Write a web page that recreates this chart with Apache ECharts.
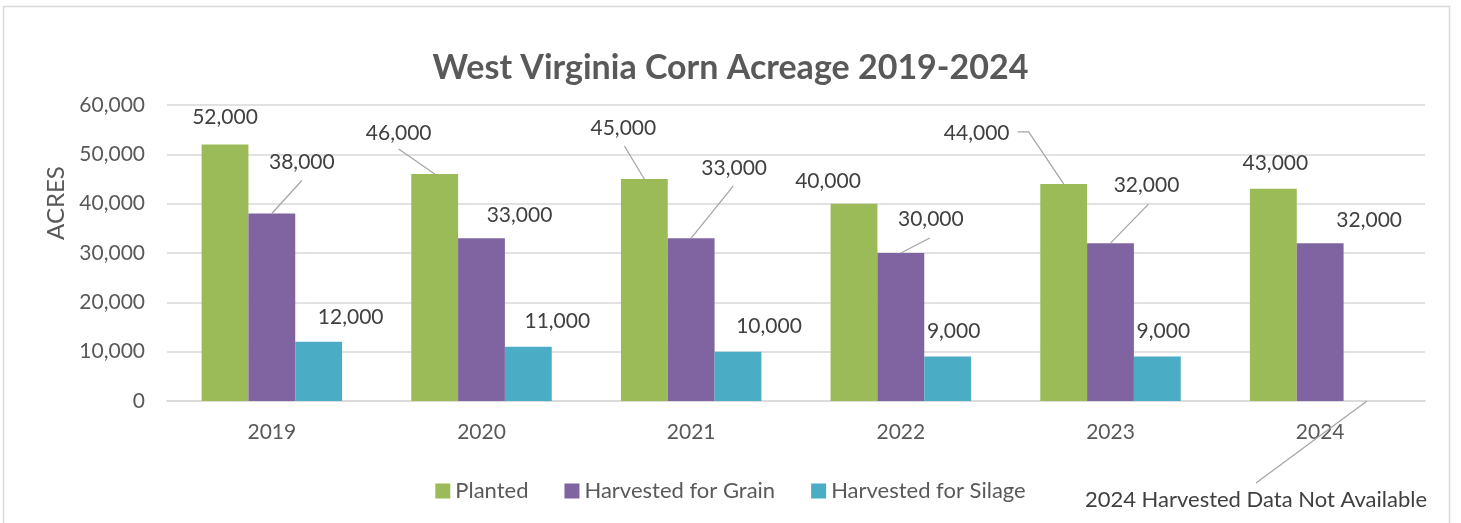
<!DOCTYPE html>
<html><head><meta charset="utf-8">
<script src="https://cdn.jsdelivr.net/npm/echarts@6/dist/echarts.min.js"></script>
<style>html,body{margin:0;padding:0;background:#fff}#c{width:1461px;height:523px}</style>
</head><body><div id="c"></div>
<script>
// ---- data ----
const categories = ['2019', '2020', '2021', '2022', '2023', '2024'];
const seriesNames = ['Planted', 'Harvested for Grain', 'Harvested for Silage'];
const planted = [52000, 46000, 45000, 40000, 44000, 43000];
const grain = [38000, 33000, 33000, 30000, 32000, 32000];
const silage = [12000, 11000, 10000, 9000, 9000, null];
const missingNote = '2024 Harvested Data Not Available';
const titleText = 'West Virginia Corn Acreage 2019-2024';
const yAxisName = 'ACRES';

// ---- label layout (pixel offsets of label centre from bar top centre) ----
const plantedOffsets = [[0, -27], [-36, -41], [-21, -51], [-26, -22], [-87, -51], [2, -26]];
const grainOffsets = [[30, -51], [38, -23], [43, -70], [30, -34], [36, -58], [49, -23]];
const silageOffsets = [[32, -25], [29, -25], [31, -25], [6, -25], [6, -25], [-111, 99]];
// leader line bend points (pixel offsets from bar top centre); null = no leader
const plantedLeaders = [null, [[-36, -25]], [[-20, -33]], null, [[-35, -52], [-46, -52]], null];
const grainLeaders = [[[30, -33]], null, [[42, -52]], [[29, -15]], [[38, -39]], null];
const silageLeaders = [null, null, null, null, null, [[-111, 82]]];

const colors = ['#9BBB59', '#8064A2', '#4BACC6'];
const FONT = 'Lato, "Open Sans", sans-serif';
const CAT_GAP = 0.33;

function fmt(v) { return Number(v).toLocaleString('en-US'); }

function buildData(values) {
  return values.map(v => {
    const d = { value: v == null ? 0 : v };
    if (v == null) d.label = { formatter: missingNote, fontSize: 22 };
    return d;
  });
}

function makeLayout(offsets) {
  return function (p) {
    const o = offsets[p.dataIndex];
    return {
      x: p.rect.x + p.rect.width / 2 + o[0],
      y: p.rect.y + o[1],
      align: 'center',
      verticalAlign: 'middle'
    };
  };
}

function makeSeries(name, values, offsets, color) {
  return {
    name: name,
    type: 'bar',
    barGap: '0%',
    barCategoryGap: (CAT_GAP * 100) + '%',
    itemStyle: { color: color },
    data: buildData(values),
    label: {
      show: true,
      position: 'top',
      color: '#404040',
      fontFamily: FONT,
      fontSize: 21,
      formatter: p => fmt(p.value)
    },
    labelLayout: makeLayout(offsets)
  };
}

const allValues = [planted, grain, silage];
const allLeaders = [plantedLeaders, grainLeaders, silageLeaders];
const leaderData = [];
allLeaders.forEach((arr, s) => arr.forEach((pts, i) => {
  if (pts) leaderData.push([i, allValues[s][i] == null ? 0 : allValues[s][i], s]);
}));

const chart = echarts.init(document.getElementById('c'));
chart.setOption({
  animation: false,
  color: colors,
  title: {
    text: titleText,
    left: 'center',
    top: 46,
    textStyle: { fontFamily: FONT, fontSize: 34, fontWeight: 'bold', color: '#595959' }
  },
  graphic: [{
    type: 'rect',
    shape: { x: 3.5, y: 6.5, width: 1446, height: 540 },
    style: { fill: 'none', stroke: '#d9d9d9', lineWidth: 1.5 },
    silent: true
  }],
  legend: {
    data: seriesNames,
    left: 'center',
    top: 475,
    icon: 'rect',
    itemWidth: 15,
    itemHeight: 15,
    itemGap: 36,
    textStyle: { fontFamily: FONT, fontSize: 22, color: '#595959' }
  },
  grid: { left: 167, right: 36, top: 105, bottom: 122, containLabel: false },
  xAxis: {
    type: 'category',
    data: categories,
    axisLine: { lineStyle: { color: '#d9d9d9', width: 1.5 } },
    axisTick: { show: false },
    axisLabel: { color: '#595959', fontFamily: FONT, fontSize: 21, margin: 21 }
  },
  yAxis: {
    type: 'value',
    min: 0,
    max: 60000,
    interval: 10000,
    name: yAxisName,
    nameLocation: 'middle',
    nameGap: 93,
    nameTextStyle: { color: '#595959', fontFamily: FONT, fontSize: 24, padding: [0, 0, 0, 100] },
    axisLine: { show: false },
    axisTick: { show: false },
    axisLabel: { color: '#595959', fontFamily: FONT, fontSize: 21, margin: 22, formatter: v => fmt(v) },
    splitLine: { lineStyle: { color: '#d9d9d9', width: 1.5 } }
  },
  series: [
    makeSeries(seriesNames[0], planted, plantedOffsets, colors[0]),
    makeSeries(seriesNames[1], grain, grainOffsets, colors[1]),
    makeSeries(seriesNames[2], silage, silageOffsets, colors[2]),
    {
      type: 'custom',
      silent: true,
      z: 5,
      encode: { x: 0, y: 1 },
      data: leaderData,
      renderItem: function (params, api) {
        const cat = api.value(0), s = api.value(2);
        const c = api.coord([cat, api.value(1)]);
        const bw = api.size([1, 0])[0] * (1 - CAT_GAP) / 3;
        const x0 = c[0] + (s - 1) * bw;
        const pts = [[x0, c[1]]].concat(allLeaders[s][cat].map(o => [x0 + o[0], c[1] + o[1]]));
        return {
          type: 'polyline',
          shape: { points: pts },
          style: { stroke: '#a6a6a6', lineWidth: 1.3, fill: null }
        };
      }
    }
  ]
});
</script>
</body></html>
